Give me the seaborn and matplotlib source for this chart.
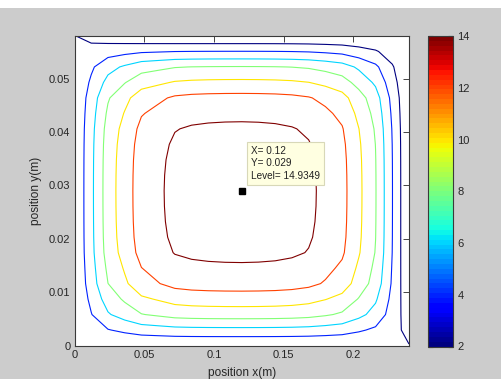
import numpy as np
import matplotlib
matplotlib.use("Agg")
import matplotlib.pyplot as plt
import seaborn as sns
from matplotlib.colors import Normalize
from matplotlib.cm import ScalarMappable
from matplotlib.patches import Rectangle

# Plate geometry (m) and number of grid nodes per direction
plate_width = 0.24
plate_height = 0.058
n_nodes = 21

# Temperatures node by node through the middle of the plate:
# along x on the row y = 0.029 m, and along y on the column x = 0.12 m
# (first entry: left / bottom edge, last entry: right / top edge)
temp_mid_row = [2.05, 5.53, 9.06, 11.04, 13.00, 13.72, 14.50, 14.76, 14.87, 14.92,
                14.9349, 14.91, 14.84, 14.68, 14.34, 13.60, 12.64, 10.44, 8.11, 4.05, 0.0]
temp_mid_col = [2.05, 5.45, 8.95, 11.00, 12.95, 13.72, 14.50, 14.76, 14.87, 14.92,
                14.9349, 14.91, 14.84, 14.68, 14.34, 13.60, 12.64, 10.44, 8.11, 4.05, 0.0]

contour_levels = [2, 4, 6, 8, 10, 12, 14]
cbar_ticks = [2, 4, 6, 8, 10, 12, 14]
x_ticks = [0, 0.05, 0.1, 0.15, 0.2]
x_tick_labels = ["0", "0.05", "0.1", "0.15", "0.2"]
y_ticks = [0, 0.01, 0.02, 0.03, 0.04, 0.05]
y_tick_labels = ["0", "0.01", "0.02", "0.03", "0.04", "0.05"]

probe_x = 0.12
probe_y = 0.029
probe_level = 14.9349

# ---- temperature field on the grid ----
# Drops below the peak along each middle line are combined node by node;
# the cross term is scaled by the peak-to-edge span of the nearest edges.
x = np.linspace(0, plate_width, n_nodes)
y = np.linspace(0, plate_height, n_nodes)
t_peak = probe_level
drop_x = t_peak - np.asarray(temp_mid_row)
drop_y = t_peak - np.asarray(temp_mid_col)
half = np.arange(n_nodes) < n_nodes // 2
edge_x = np.where(half, temp_mid_row[0], temp_mid_row[-1])
edge_y = np.where(half, temp_mid_col[0], temp_mid_col[-1])
DX, DY = np.meshgrid(drop_x, drop_y)
EX, EY = np.meshgrid(edge_x, edge_y)
span = t_peak - np.maximum(EX, EY)
T = t_peak - DX - DY + DX * DY / span

# ---- figure ----
sns.set_theme(style="white")
plt.rcParams["font.family"] = ["Liberation Sans", "DejaVu Sans"]

W, H = 502, 379
fig = plt.figure(figsize=(W / 100, H / 100), dpi=100, facecolor="#cccccc")
fig.patches.append(Rectangle((0, 1 - 7.5 / H), 1, 7.5 / H, transform=fig.transFigure,
                             facecolor="white", edgecolor="none", zorder=0))

ax = fig.add_axes([74.5 / W, 1 - 345.5 / H, (409 - 74.5) / W, (345.5 - 36) / H])
ax.set_facecolor("white")

jet = matplotlib.colormaps["jet"].resampled(64)
norm = Normalize(vmin=2, vmax=14)

ax.contour(x, y, T, levels=contour_levels, cmap=jet, norm=norm, linewidths=0.8)
ax.set_xlim(0, plate_width)
ax.set_ylim(0, plate_height)

ax.set_xticks(x_ticks)
ax.set_xticklabels(x_tick_labels)
ax.set_yticks(y_ticks)
ax.set_yticklabels(y_tick_labels)
ax.tick_params(direction="in", top=True, right=True, length=4, width=0.6,
               labelsize=8, pad=3, colors="#262626")
for s in ax.spines.values():
    s.set_color("#3a3a3a")
    s.set_linewidth(0.8)

ax.set_xlabel("position x(m)", fontsize=8.6, labelpad=5.5, color="#262626")
ax.set_ylabel("position y(m)", fontsize=8.6, labelpad=5, color="#262626")

# data tip at the hottest node
ax.plot([probe_x], [probe_y], marker="s", color="black", markersize=5, linestyle="none")
ax.annotate(f"X= {probe_x:g}\nY= {probe_y:g}\nLevel= {probe_level:g}",
            xy=(probe_x, probe_y), xytext=(6.6, 6.9), textcoords="offset points",
            ha="left", va="bottom", fontsize=7.2, linespacing=1.35, color="#222222",
            bbox=dict(boxstyle="square,pad=0.4", facecolor="#ffffe1",
                      edgecolor="#d8d8b8", linewidth=0.8))

# colorbar
cax = fig.add_axes([428.3 / W, 1 - 346.5 / H, 25 / W, 310.5 / H])
cb = fig.colorbar(ScalarMappable(norm=norm, cmap=jet), cax=cax, ticks=cbar_ticks)
cb.ax.tick_params(direction="in", left=True, right=True, length=3.5, width=0.8,
                  labelsize=8, pad=3, colors="#262626")
cb.outline.set_linewidth(0.8)
cb.outline.set_edgecolor("#3a3a3a")

fig.savefig("out.png", dpi=100, facecolor=fig.get_facecolor())
